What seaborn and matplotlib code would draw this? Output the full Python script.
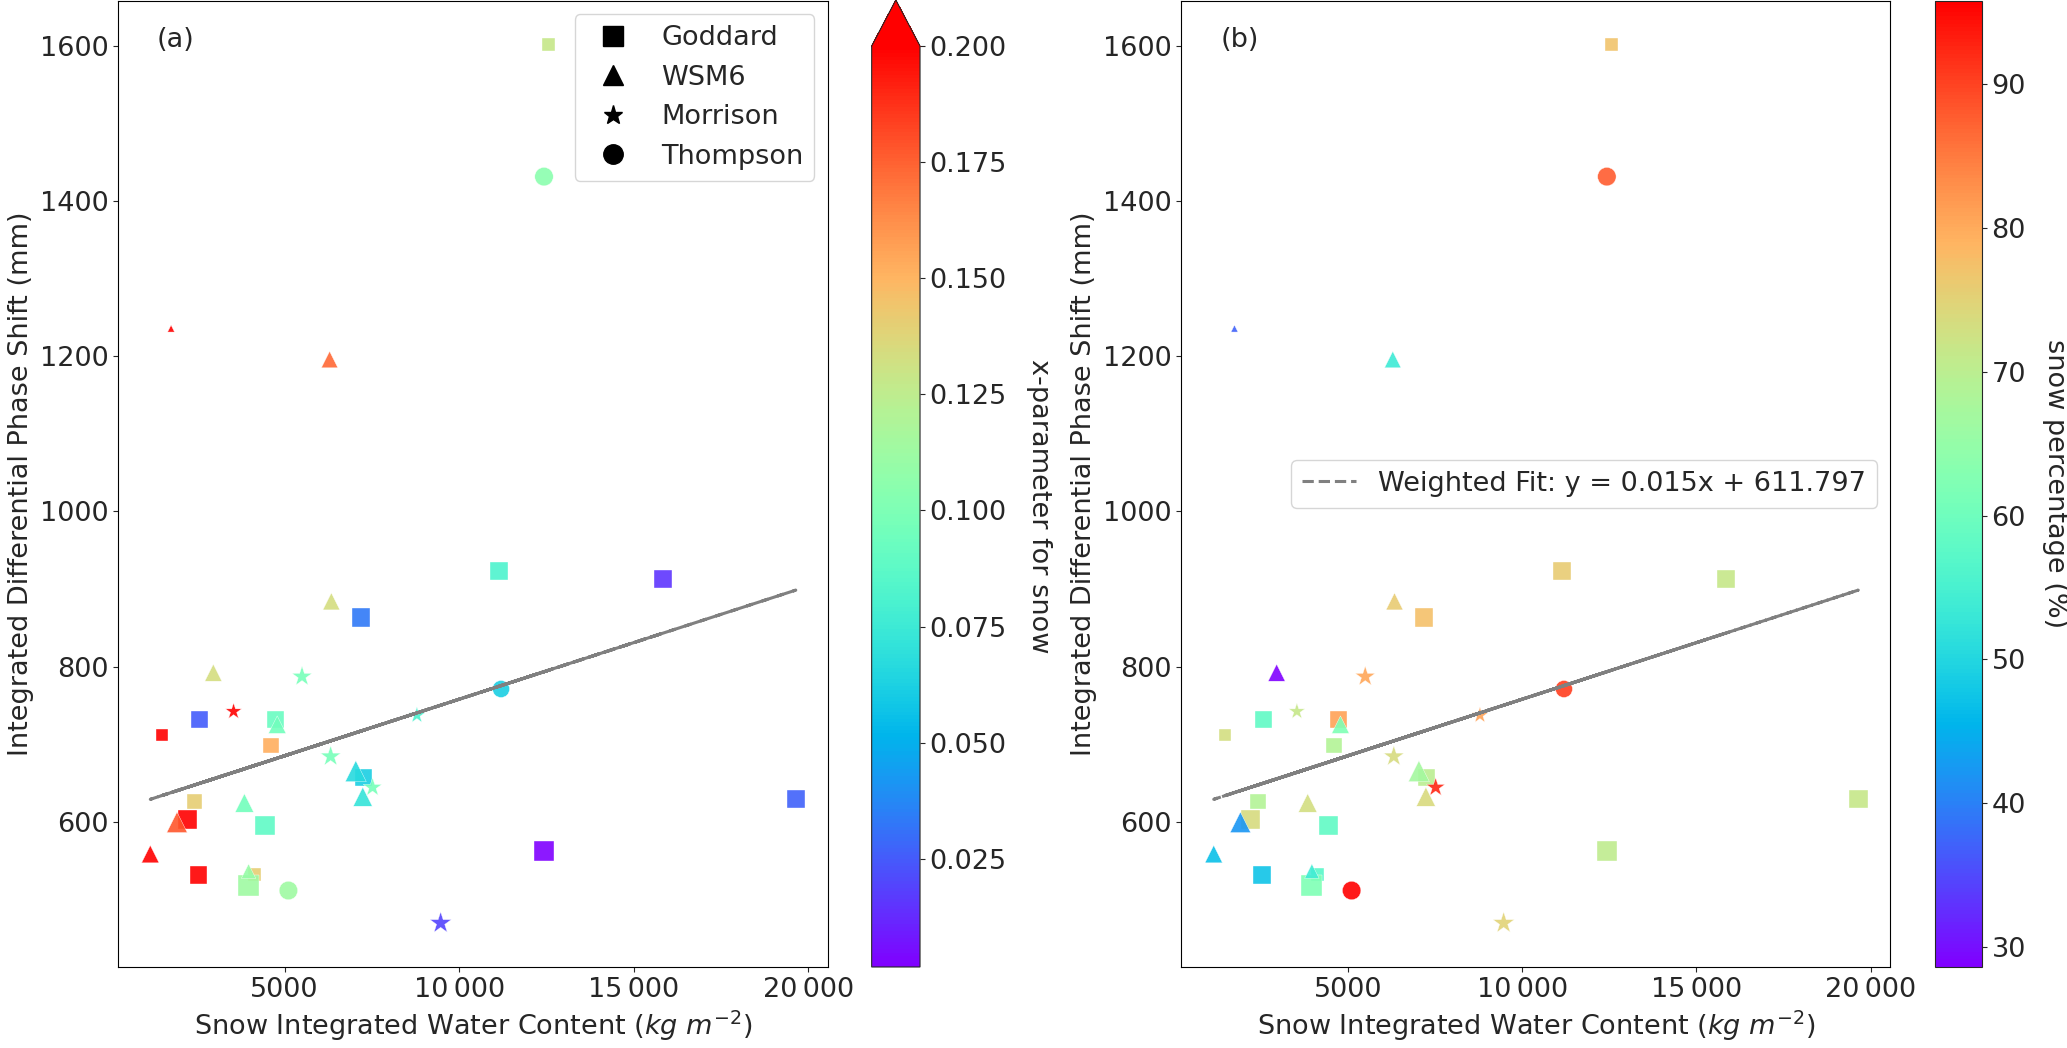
import numpy as np
import pandas as pd
import matplotlib
matplotlib.use("Agg")
import matplotlib.pyplot as plt
from matplotlib.lines import Line2D
from matplotlib.ticker import FuncFormatter
import seaborn as sns

# Data (one entry per simulation)
scheme = (["Goddard"] * 17 + ["WSM6"] * 11 + ["Morrison"] * 6 + ["Thompson"] * 3)

snow_iwc = [12570, 11140, 15840, 7190, 2570, 4740, 1490, 4610, 7250, 2420, 2220, 4440, 19640, 12430, 2540, 4130, 3970,
            1750, 6290, 6340, 2960, 4790, 7040, 7240, 3850, 1920, 1155, 3970,
            5500, 3540, 8790, 6320, 7520, 9470,
            12430, 11200, 5110]

phase_shift = [1602, 923, 913, 863, 731, 731, 711, 698, 657, 626, 603, 595, 629, 562, 531, 532, 518,
               1236, 1196, 884, 792, 725, 665, 632, 624, 599, 558, 536,
               787, 742, 737, 684, 644, 469,
               1432, 771, 511]

x_param = [0.128, 0.081, 0.015, 0.033, 0.025, 0.092, 0.25, 0.152, 0.062, 0.141, 0.25, 0.088, 0.027, 0.0017, 0.25, 0.141, 0.113,
           0.25, 0.173, 0.134, 0.134, 0.095, 0.066, 0.072, 0.095, 0.178, 0.25, 0.11,
           0.097, 0.25, 0.08, 0.097, 0.097, 0.019,
           0.105, 0.062, 0.113]

snow_pct = [77, 76, 71.5, 77.5, 58, 81, 73, 69, 70, 69, 73.6, 58, 71.5, 70.5, 47.4, 57, 62,
            37, 53.5, 76, 28.6, 62, 67, 74, 73, 42, 46.8, 54,
            80.5, 71.5, 81, 73.6, 92.5, 75,
            87.8, 90.4, 95.8]

# marker size in pixels (square side / triangle width / star and circle diameter)
marker_px = [13, 17.5, 18.5, 18.5, 17, 17, 12, 15.5, 17, 15.5, 19, 19.5, 18.5, 19.5, 17.5, 13, 21,
             7, 16.5, 17, 17, 17.5, 21, 19, 18.5, 20.5, 17.5, 14.5,
             21, 17, 17, 21.5, 19.5, 22.5,
             18.5, 17, 18.5]

scheme_order = ["Goddard", "WSM6", "Morrison", "Thompson"]
scheme_markers = {"Goddard": "s", "WSM6": "^", "Morrison": "*", "Thompson": "o"}

# weighted linear fit coefficients
fit_slope = 0.0146
fit_intercept = 611.797

df = pd.DataFrame({
    "scheme": scheme,
    "iwc": snow_iwc,
    "phase": phase_shift,
    "xpar": x_param,
    "pct": snow_pct,
    "s": (np.array(marker_px) * 0.72) ** 2,
})

sns.set_style("ticks")
plt.rcParams["font.family"] = ["DejaVu Sans"]
plt.rcParams["font.size"] = 19.5
plt.rcParams["mathtext.fontset"] = "dejavusans"

fig = plt.figure(figsize=(20.67, 10.48), dpi=100)
ax_a = fig.add_axes([0.0571, 0.0773, 0.3435, 0.9218])
cax_a = fig.add_axes([0.4217, 0.0773, 0.0234, 0.9227])
ax_b = fig.add_axes([0.5716, 0.0773, 0.3430, 0.9218])
cax_b = fig.add_axes([0.9361, 0.0773, 0.0227, 0.9218])

cmap = plt.get_cmap("rainbow")
norm_a = plt.Normalize(min(x_param), 0.2)
norm_b = plt.Normalize(min(snow_pct), max(snow_pct))
s_range = (df["s"].min(), df["s"].max())


def thin_thousands(v, pos):
    if abs(v) >= 10000:
        return f"{int(v):,}".replace(",", "\u2009")
    return f"{int(v)}"


fit_x = df["iwc"].values
fit_y = fit_slope * fit_x + fit_intercept

for ax, col, norm in [(ax_a, "xpar", norm_a), (ax_b, "pct", norm_b)]:
    sns.scatterplot(
        data=df, x="iwc", y="phase", hue=col, style="scheme", size="s",
        palette="rainbow", hue_norm=norm, markers=scheme_markers,
        style_order=scheme_order, sizes=s_range, size_norm=s_range,
        alpha=0.9, linewidth=0.3, legend=False, ax=ax,
    )
    line, = ax.plot(fit_x, fit_y, "--", color="gray", linewidth=2.2,
                    label=f"Weighted Fit: y = {fit_slope:.3f}x + {fit_intercept:.3f}")
    ax.set_xlabel(r"Snow Integrated Water Content ($kg\ m^{-2}$)")
    ax.set_ylabel("Integrated Differential Phase Shift (mm)")
    ax.xaxis.set_major_formatter(FuncFormatter(thin_thousands))
    ax.set_yticks([600, 800, 1000, 1200, 1400, 1600])
    for sp in ax.spines.values():
        sp.set_color("black")

ax_a.text(0.055, 0.96, "(a)", transform=ax_a.transAxes, va="center")
ax_b.text(0.055, 0.96, "(b)", transform=ax_b.transAxes, va="center")

handles = [Line2D([], [], marker=scheme_markers[k], color="black", linestyle="none",
                  markersize=14, label=k) for k in scheme_order]
ax_a.legend(handles=handles, loc="upper right")
ax_b.legend(handles=[line], loc="center right")

cb_a = fig.colorbar(plt.cm.ScalarMappable(norm=norm_a, cmap=cmap), cax=cax_a, extend="max")
cb_a.set_label("x-parameter for snow", rotation=270, labelpad=32)
cb_b = fig.colorbar(plt.cm.ScalarMappable(norm=norm_b, cmap=cmap), cax=cax_b)
cb_b.set_label("snow percentage (%)", rotation=270, labelpad=30)

fig.savefig("out.png", dpi=100)
